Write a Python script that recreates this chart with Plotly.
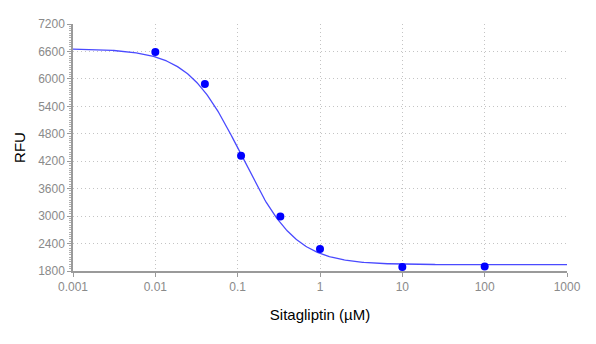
import numpy as np
import plotly.graph_objects as go

# Data points
conc = [0.01, 0.04, 0.11, 0.33, 1, 10, 100]
rfu = [6590, 5890, 4320, 2990, 2280, 1890, 1900]

# Fitted 4PL curve parameters
top = 6660
bottom = 1938
ic50 = 0.113
hill = 1.33

y_ticks = [1800, 2400, 3000, 3600, 4200, 4800, 5400, 6000, 6600, 7200]
x_ticks = [0.001, 0.01, 0.1, 1, 10, 100, 1000]
x_labels = ["0.001", "0.01", "0.1", "1", "10", "100", "1000"]

xc = np.logspace(-3, 3, 400)
yc = bottom + (top - bottom) / (1 + (xc / ic50) ** hill)

fig = go.Figure()
fig.add_trace(go.Scatter(x=xc, y=yc, mode="lines",
                         line=dict(color="#4a4aff", width=1.3),
                         hoverinfo="skip", showlegend=False))
fig.add_trace(go.Scatter(x=conc, y=rfu, mode="markers",
                         marker=dict(color="#0000ff", size=8, symbol="circle"),
                         showlegend=False))

tickfont = dict(family="Liberation Sans Narrow, Arial Narrow, sans-serif", size=12, color="#8a8a8a")
titlefont = dict(family="Arial, Liberation Sans, sans-serif", size=15, color="black")
fig.update_layout(
    width=596, height=344,
    margin=dict(l=73, r=29, t=24, b=73),
    paper_bgcolor="white", plot_bgcolor="white",
    xaxis=dict(type="log", range=[-3, 3], tickvals=x_ticks, ticktext=x_labels,
               automargin=False,
               showgrid=True, gridcolor="#c4c4c4", griddash="1px,3px", gridwidth=1,
               showline=True, linecolor="#9a9a9a", linewidth=1.5,
               ticks="outside", ticklen=4, tickcolor="#9a9a9a",
               tickfont=tickfont, zeroline=False,
               title=dict(text="Sitagliptin (µM)", standoff=16, font=titlefont)),
    yaxis=dict(range=[1800, 7200], tickvals=y_ticks,
               automargin=False,
               showgrid=True, gridcolor="#c4c4c4", griddash="1px,3px", gridwidth=1,
               showline=True, linecolor="#9a9a9a", linewidth=1.5,
               ticks="outside", ticklen=4, tickcolor="#9a9a9a",
               tickfont=tickfont, zeroline=False,
               minor=dict(ticks="outside", ticklen=2, tickcolor="#b0b0b0", nticks=25, showgrid=False),
               title=dict(text="RFU", standoff=9, font=titlefont)),
)
fig.write_html("out.html")
